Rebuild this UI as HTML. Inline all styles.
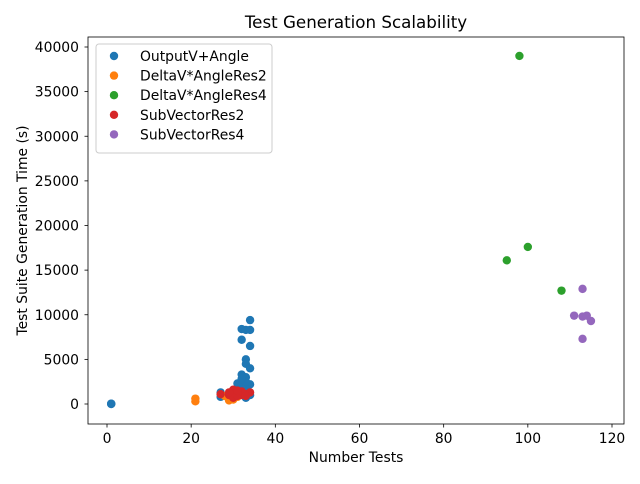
<!DOCTYPE html>
<html><head><meta charset="utf-8"><style>
body{margin:0;background:#fff;font-family:"DejaVu Sans","Liberation Sans",sans-serif}
svg text{font-family:"DejaVu Sans","Liberation Sans",sans-serif;fill:#000}
</style></head><body>
<svg id="chart" width="640" height="480" viewBox="0 0 640 480">
<text x="356" y="28" font-size="16.7" text-anchor="middle">Test Generation Scalability</text>
<g id="marks"></g>
<g id="axes"></g>
<g id="legend"></g>
</svg>
<script>
const seriesNames=["OutputV+Angle","DeltaV*AngleRes2","DeltaV*AngleRes4","SubVectorRes2","SubVectorRes4"];
const colors=["#1f77b4","#ff7f0e","#2ca02c","#d62728","#9467bd"];
const blueX=[1,1,1,27,27,31,32,32,32,33,34,34,34,33,33,34,33,34,33,32,33,34,30,31,32,33,31,32,33];
const blueY=[0,20,40,800,1300,2300,3300,7200,8400,8300,8300,9400,6500,5000,4500,4000,3000,2200,1800,1500,700,1000,1000,1500,2000,2500,1200,2800,1300];
const orangeX=[21,21,29,30,31,28,30];
const orangeY=[300,600,400,600,800,900,500];
const greenX=[98,100,95,108];
const greenY=[39000,17600,16100,12700];
const redX=[27,29,30,30,31,32,33,34,30,31,29,32,31,33];
const redY=[1100,1000,1400,1600,1200,1000,1100,1300,700,900,1300,1400,1500,900];
const purpleX=[113,111,113,114,115,113];
const purpleY=[12900,9900,9800,9900,9300,7300];
const xTicks=[0,20,40,60,80,100,120];
const yTicks=[0,5000,10000,15000,20000,25000,30000,35000,40000];
const allX=[blueX,orangeX,greenX,redX,purpleX];
const allY=[blueY,orangeY,greenY,redY,purpleY];
const L=88,R=624,T=37,B=424;
function sx(v){return 107+v*(612-107)/120;}
function sy(v){return 404-v*(404-47)/40000;}
const NS="http://www.w3.org/2000/svg";
function mk(t,a,p){const e=document.createElementNS(NS,t);for(const k in a)e.setAttribute(k,a[k]);p.appendChild(e);return e;}
const marks=document.getElementById('marks');
allX.forEach((xs,s)=>{xs.forEach((x,i)=>{
 const c=mk('circle',{cx:sx(x),cy:sy(allY[s][i]),r:4.2,fill:colors[s]},marks);
 
 
});});
const ax=document.getElementById('axes');
const frame=mk('rect',{x:L,y:T,width:R-L,height:B-T,fill:'none',stroke:'#000','stroke-width':0.8},ax);


xTicks.forEach(t=>{
 mk('line',{x1:sx(t),x2:sx(t),y1:B,y2:B+3.5,stroke:'#000','stroke-width':0.8},ax);
 const tx=mk('text',{x:sx(t),y:B+19,'font-size':13.9,'text-anchor':'middle'},ax);tx.textContent=t;
 
 
});
yTicks.forEach(t=>{
 mk('line',{x1:L-3.5,x2:L,y1:sy(t),y2:sy(t),stroke:'#000','stroke-width':0.8},ax);
 const tx=mk('text',{x:L-9,y:sy(t)+5,'font-size':13.9,'text-anchor':'end'},ax);tx.textContent=t;
 
 
});
const xt=mk('text',{x:(L+R)/2,y:462,'font-size':13.9,'text-anchor':'middle'},ax);xt.textContent='Number Tests';


const yt=mk('text',{x:27,y:(T+B)/2,'font-size':13.9,'text-anchor':'middle',transform:'rotate(-90 27 '+((T+B)/2)+')'},ax);yt.textContent='Test Suite Generation Time (s)';


const lg=document.getElementById('legend');
mk('rect',{x:96,y:44,width:176,height:109,rx:3,fill:'#fff','fill-opacity':0.8,stroke:'#ccc','stroke-width':1},lg);
seriesNames.forEach((n,i)=>{
 const y=56+i*19.6;
 const g=mk('g',{},lg);
 
 
 mk('circle',{cx:114,cy:y,r:4.2,fill:colors[i]},g);
 const t=mk('text',{x:140,y:y+5,'font-size':13.9},g);t.textContent=n;
});
</script>
</body></html>
